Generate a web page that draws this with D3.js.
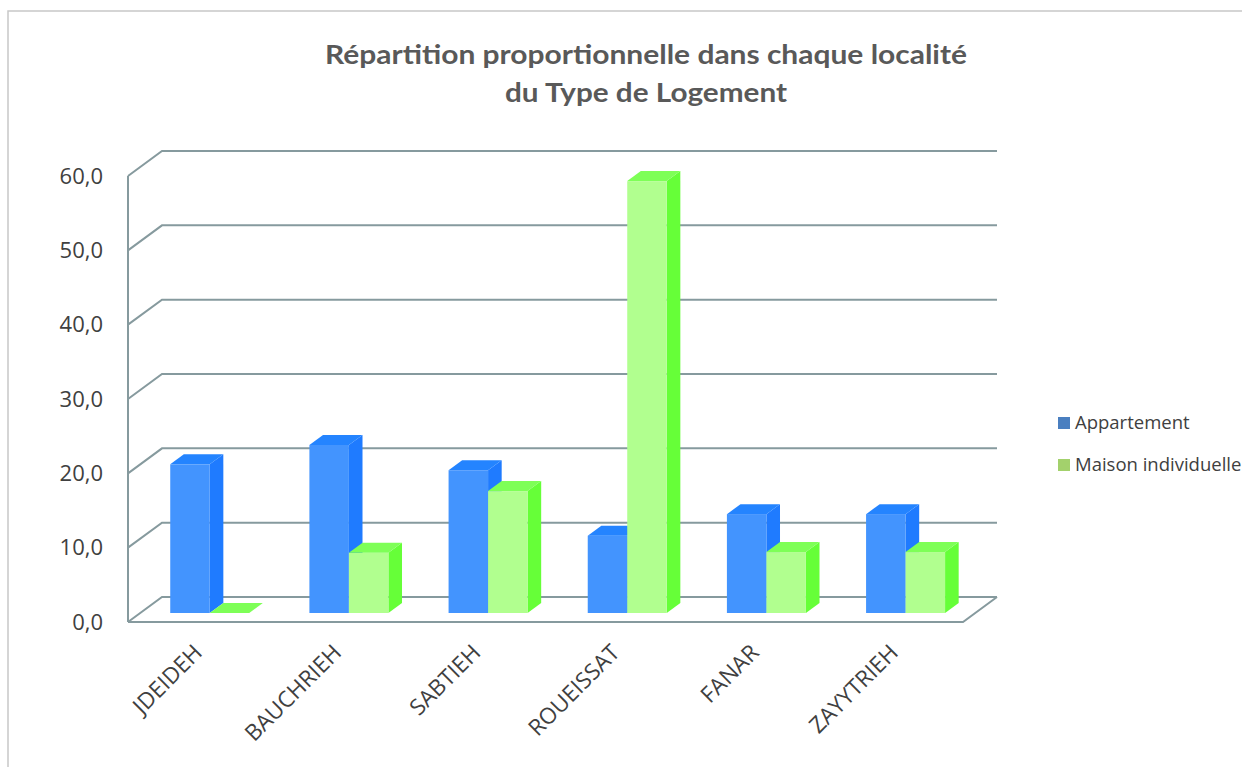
<!DOCTYPE html>
<html>
<head>
<meta charset="utf-8">
<script src="https://cdn.jsdelivr.net/npm/d3@7"></script>
<style>
  html, body { margin: 0; padding: 0; background: #fff; }
  svg { display: block; }
</style>
</head>
<body>
<svg id="chart" width="1242" height="767"></svg>
<script>
const categories = ["JDEIDEH", "BAUCHRIEH", "SABTIEH", "ROUEISSAT", "FANAR", "ZAYYTRIEH"];
const seriesNames = ["Appartement", "Maison individuelle"];
const appartement = [20.0, 22.6, 19.2, 10.4, 13.3, 13.3];
const maison = [0.0, 8.1, 16.4, 58.1, 8.2, 8.2];
const yTicks = [0, 10, 20, 30, 40, 50, 60];

const svg = d3.select("#chart");
const width = 1242, height = 767;
const font = "'Open Sans', sans-serif";

// plot geometry (front plane)
const x0 = 128, y0 = 622, plotW = 835;
const depth = { dx: 34, dy: -25 };
const barFront = 0.36, barBack = 0.76;

const y = d3.scaleLinear().domain([0, 60]).range([0, 446]);
const x = d3.scaleBand().domain(categories).range([0, plotW]);
const xs = d3.scaleBand().domain(seriesNames).range([30, 109]);

const colors = {
  "Appartement": { front: "#4394fe", top: "#2484ff", side: "#1f7bff", legend: "#4a7fc0" },
  "Maison individuelle": { front: "#b1ff8f", top: "#7eff57", side: "#66ff38", legend: "#a3d16c" }
};

// frame border
svg.append("path")
  .attr("d", `M8,${height} L8,11 L${width},11`)
  .attr("fill", "none")
  .attr("stroke", "#c8c8c8")
  .attr("stroke-width", 1.5);

// title
const title = svg.append("text")
  .attr("text-anchor", "middle")
  .attr("font-family", "Lato, sans-serif")
  .attr("font-weight", "bold")
  .attr("font-size", 27)
  .attr("fill", "#595959");
title.append("tspan").attr("x", 646).attr("y", 64).attr("textLength", 642).attr("lengthAdjust", "spacingAndGlyphs")
  .text("Répartition proportionnelle dans chaque localité");
title.append("tspan").attr("x", 646).attr("y", 102).attr("textLength", 282).attr("lengthAdjust", "spacingAndGlyphs")
  .text("du Type de Logement");

// walls and gridlines
const grid = svg.append("g")
  .attr("fill", "none")
  .attr("stroke", "#869a9e")
  .attr("stroke-width", 2);

yTicks.forEach(t => {
  const yy = y0 - y(t);
  grid.append("path")
    .attr("d", `M${x0},${yy} L${x0 + depth.dx},${yy + depth.dy} L${x0 + plotW + depth.dx},${yy + depth.dy}`);
});
// front vertical axis
grid.append("line")
  .attr("x1", x0).attr("y1", y0)
  .attr("x2", x0).attr("y2", y0 - y(60));
// floor front & right edges
grid.append("path")
  .attr("d", `M${x0},${y0} L${x0 + plotW},${y0} L${x0 + plotW + depth.dx},${y0 + depth.dy}`);

// y labels
svg.append("g")
  .selectAll("text")
  .data(yTicks)
  .join("text")
  .attr("x", 103)
  .attr("y", d => y0 - y(d))
  .attr("dy", "0.35em")
  .attr("text-anchor", "end")
  .attr("font-family", font)
  .attr("font-size", 22)
  .attr("fill", "#404040")
  .text(d => d3.format(".1f")(d).replace(".", ","));

// bars
const fx = x0 + depth.dx * barFront, fy = y0 + depth.dy * barFront;
const bdx = depth.dx * (barBack - barFront), bdy = depth.dy * (barBack - barFront);

const barData = [];
categories.forEach((c, i) => {
  barData.push({ cat: c, s: seriesNames[0], v: appartement[i] });
  barData.push({ cat: c, s: seriesNames[1], v: maison[i] });
});

const bars = svg.append("g")
  .selectAll("g")
  .data(barData)
  .join("g");

bars.each(function(d) {
  const g = d3.select(this);
  const left = fx + x(d.cat) + xs(d.s);
  const w = xs.bandwidth();
  const bottom = fy;
  const top = fy - y(d.v);
  const col = colors[d.s];
  // side face
  g.append("path")
    .attr("d", `M${left + w},${bottom} L${left + w + bdx},${bottom + bdy} L${left + w + bdx},${top + bdy} L${left + w},${top} Z`)
    .attr("fill", col.side);
  // front face
  g.append("rect")
    .attr("x", left).attr("y", top)
    .attr("width", w).attr("height", y(d.v))
    .attr("fill", col.front);
  // top face
  g.append("path")
    .attr("d", `M${left},${top} L${left + bdx},${top + bdy} L${left + w + bdx},${top + bdy} L${left + w},${top} Z`)
    .attr("fill", col.top);
});

// x labels
svg.append("g")
  .selectAll("text")
  .data(categories)
  .join("text")
  .attr("transform", d => `translate(${x0 + x(d) + x.bandwidth() / 2 + 6},${y0 + 32}) rotate(-45)`)
  .attr("text-anchor", "end")
  .attr("font-family", font)
  .attr("font-size", 22.5)
  .attr("fill", "#404040")
  .text(d => d);

// legend
const legend = svg.append("g")
  .selectAll("g")
  .data(seriesNames)
  .join("g")
  .attr("transform", (d, i) => `translate(1058,${423 + i * 42})`);
legend.append("rect")
  .attr("x", 0).attr("y", -6)
  .attr("width", 12).attr("height", 12)
  .attr("fill", d => colors[d].legend);
legend.append("text")
  .attr("x", 17).attr("dy", "0.35em")
  .attr("font-family", font)
  .attr("font-size", 18.5)
  .attr("fill", "#404040")
  .text(d => d);
</script>
</body>
</html>
